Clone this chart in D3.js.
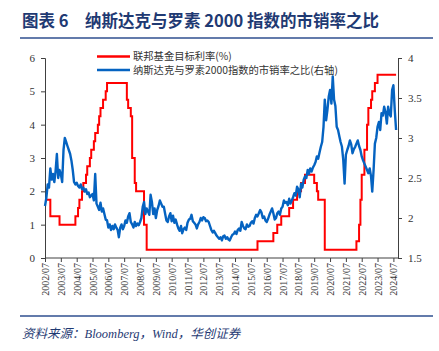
<!DOCTYPE html>
<html><head><meta charset="utf-8">
<script src="https://cdn.jsdelivr.net/npm/d3@7/dist/d3.min.js"></script>
<style>
html,body{margin:0;padding:0;background:#fff;}
svg{display:block;}
</style>
</head><body>
<svg id="c" width="439" height="351"></svg>
<script>
// ---------------- DATA ----------------
const titleText = "图表 6　纳斯达克与罗素 2000 指数的市销率之比";
const sourceText = "资料来源：Bloomberg，Wind，华创证券";
const seriesNames = ["联邦基金目标利率(%)", "纳斯达克与罗素2000指数的市销率之比(右轴)"];
const xTickLabels = ["2002/07","2003/07","2004/07","2005/07","2006/07","2007/07","2008/07","2009/07","2010/07","2011/07","2012/07","2013/07","2014/07","2015/07","2016/07","2017/07","2018/07","2019/07","2020/07","2021/07","2022/07","2023/07","2024/07"];
const leftTicks = [0,1,2,3,4,5,6];
const rightTicks = [1.5,2,2.5,3,3.5,4];

// Fed funds target rate: change dates and levels
const rateDates = ["2002-07","2002-11","2003-06","2004-06","2004-08","2004-09","2004-11","2004-12","2005-02","2005-03","2005-05","2005-06","2005-08","2005-09","2005-11","2005-12","2006-01","2006-03","2006-05","2006-06","2007-09","2007-10","2007-12","2008-01","2008-03","2008-04","2008-10","2008-12","2015-12","2016-12","2017-03","2017-06","2017-12","2018-03","2018-06","2018-09","2018-12","2019-07","2019-09","2019-10","2020-03","2022-03","2022-05","2022-06","2022-07","2022-09","2022-11","2022-12","2023-02","2023-03","2023-05","2023-07","2024-09"];
const rateValues = [1.75,1.25,1.0,1.25,1.5,1.75,2.0,2.25,2.5,2.75,3.0,3.25,3.5,3.75,4.0,4.25,4.5,4.75,5.0,5.25,4.75,4.5,4.25,3.0,2.25,2.0,1.0,0.25,0.5,0.75,1.0,1.25,1.5,1.75,2.0,2.25,2.5,2.25,2.0,1.75,0.25,0.5,1.0,1.75,2.5,3.25,4.0,4.5,4.75,5.0,5.25,5.5,5.5];

// Nasdaq / Russell 2000 P/S ratio, monthly from 2002/07
const psStart = "2002-07";
const psValues = [
2.15,2.25,2.42,2.38,2.62,2.48,2.55,2.45,2.58,2.80,2.50,2.60,
2.55,2.45,2.85,3.00,2.95,2.90,2.85,2.80,2.72,2.60,2.45,2.42,
2.44,2.40,2.38,2.42,2.36,2.38,2.33,2.36,2.30,2.32,2.26,2.28,
2.30,2.22,2.55,2.18,2.14,2.10,2.19,2.08,2.12,2.05,1.98,1.97,
1.88,1.92,1.85,1.90,1.86,1.92,1.88,1.85,1.76,1.88,1.92,1.86,
1.90,1.97,1.94,2.02,2.06,1.95,1.92,1.88,1.95,1.90,1.93,1.91,
1.95,2.00,2.14,2.20,2.05,2.12,2.08,2.04,2.29,2.20,2.05,2.12,
2.00,2.10,2.15,2.22,2.18,2.14,2.14,2.05,1.97,1.95,2.02,2.06,
1.96,2.03,1.94,1.98,1.92,1.87,1.84,1.90,1.81,1.86,1.88,1.85,
1.94,1.98,1.99,2.04,1.96,1.94,1.92,1.87,1.92,1.95,2.00,1.97,
2.01,2.00,1.96,1.97,1.95,1.90,1.85,1.82,1.84,1.81,1.78,1.76,
1.74,1.76,1.72,1.77,1.78,1.74,1.76,1.73,1.72,1.76,1.79,1.80,
1.83,1.80,1.85,1.87,1.84,1.95,1.90,1.87,1.86,1.92,1.89,1.90,
1.94,1.96,1.93,2.00,2.04,2.02,2.06,2.10,2.07,2.00,2.02,1.97,
1.95,1.99,2.04,2.08,2.12,2.06,1.98,2.00,2.06,2.08,2.04,2.12,
2.14,2.22,2.19,2.20,2.16,2.24,2.18,2.22,2.26,2.31,2.28,2.39,
2.36,2.26,2.43,2.38,2.48,2.52,2.50,2.60,2.55,2.62,2.58,2.63,
2.66,2.70,2.77,2.74,2.82,2.89,2.95,3.14,3.48,3.22,3.35,3.52,
3.60,3.43,3.77,3.48,3.40,3.14,3.10,3.02,2.95,2.89,2.73,2.43,
2.79,2.85,2.90,2.97,2.92,2.81,2.86,2.89,2.93,2.97,2.90,2.85,
2.77,2.72,2.68,2.64,2.60,2.56,2.62,2.52,2.33,2.60,2.93,3.00,
3.14,3.20,3.10,3.31,3.28,3.39,3.32,3.18,3.39,3.30,3.27,3.60,
3.66,3.35,3.10];

// ---------------- CHART ----------------
const parseM = d3.timeParse("%Y-%m");
const parseT = d3.timeParse("%Y/%m");
const svg = d3.select("#c");
const navy = "#1F3A73";
const axisCol = "#404040";

// title
svg.append("text").attr("x", 22).attr("y", 27)
  .attr("font-family", "'Noto Sans CJK SC', sans-serif")
  .attr("font-weight", "bold").attr("font-size", 16.5)
  .attr("fill", navy).text(titleText);
svg.append("line").attr("x1", 20).attr("x2", 433).attr("y1", 38).attr("y2", 38)
  .attr("stroke", "#2F4F8F").attr("stroke-width", 1.5);
svg.append("line").attr("x1", 20).attr("x2", 433).attr("y1", 316).attr("y2", 316)
  .attr("stroke", "#2F4F8F").attr("stroke-width", 1.5);
svg.append("text").attr("x", 22).attr("y", 338)
  .attr("font-family", "'Liberation Serif', 'Noto Sans CJK SC', serif")
  .attr("font-style", "italic").attr("font-size", 12.5)
  .attr("fill", navy).text(sourceText);

const x0 = 45, x1 = 398, yTop = 58, yBot = 258;
const x = d3.scaleTime()
  .domain([parseM("2002-07"), new Date(2024, 9, 15)])
  .range([x0, x1]);
const yL = d3.scaleLinear().domain([0, 6]).range([yBot, yTop]);
const yR = d3.scaleLinear().domain([1.5, 4]).range([yBot, yTop]);

const serif = "'Liberation Serif', 'Times New Roman', serif";

// left axis
const gL = svg.append("g").attr("transform", `translate(${x0},0)`)
  .call(d3.axisLeft(yL).tickValues(leftTicks).tickSize(4).tickPadding(6).tickFormat(d3.format("d")));
// right axis
const gR = svg.append("g").attr("transform", `translate(${x1},0)`)
  .call(d3.axisRight(yR).tickValues(rightTicks).tickSize(4).tickPadding(6).tickFormat(d => String(d)));
// bottom axis
const gB = svg.append("g").attr("transform", `translate(0,${yBot})`)
  .call(d3.axisBottom(x).tickValues(xTickLabels.map(parseT)).tickSize(4).tickFormat(d3.timeFormat("%Y/%m")));
gB.selectAll("text")
  .attr("transform", "rotate(-90)")
  .attr("text-anchor", "end")
  .attr("x", -5).attr("y", 0).attr("dy", "0.35em");

[gL, gR, gB].forEach(g => {
  g.select(".domain").attr("stroke", axisCol).attr("stroke-width", 1);
  g.selectAll(".tick line").attr("stroke", axisCol);
  g.selectAll(".tick text").attr("fill", "#333").attr("font-family", serif).attr("font-size", 11);
});
gB.selectAll(".tick text").attr("font-size", 10);
gB.select(".domain").attr("d", `M${x0},0H${x1}`);

// red step line
const rateData = rateDates.map((d, i) => ({ date: parseM(d), v: rateValues[i] }));
svg.append("path").datum(rateData)
  .attr("fill", "none").attr("stroke", "#FF0000").attr("stroke-width", 2)
  .attr("d", d3.line().curve(d3.curveStepAfter).x(d => x(d.date)).y(d => yL(d.v)));

// blue line
const startD = parseM(psStart);
const psData = psValues.map((v, i) => ({ date: d3.timeMonth.offset(startD, i), v }));
svg.append("path").datum(psData)
  .attr("fill", "none").attr("stroke", "#0563C1").attr("stroke-width", 2.4)
  .attr("stroke-linejoin", "round")
  .attr("d", d3.line().x(d => x(d.date)).y(d => yR(d.v)));

// legend
const legCols = ["#FF0000", "#0563C1"];
const legY = [56.5, 70];
seriesNames.forEach((n, i) => {
  svg.append("line").attr("x1", 97).attr("x2", 130).attr("y1", legY[i]).attr("y2", legY[i])
    .attr("stroke", legCols[i]).attr("stroke-width", 2.4);
  svg.append("text").attr("x", 133).attr("y", legY[i]).attr("dy", "0.35em")
    .attr("font-family", "'Noto Sans CJK SC', sans-serif").attr("font-size", 10.3)
    .attr("fill", "#333").text(n);
});
</script>
</body></html>
